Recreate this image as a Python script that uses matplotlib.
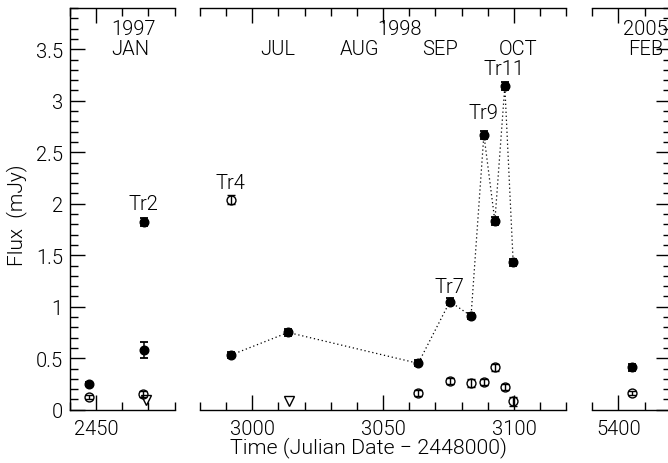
import matplotlib
matplotlib.use("Agg")
import matplotlib.pyplot as plt
from matplotlib.ticker import MultipleLocator, FuncFormatter

plt.rcParams['font.family'] = ['Roboto', 'DejaVu Sans']
plt.rcParams['font.weight'] = 300
plt.rcParams['font.size'] = 14.5

# Time axis is Julian Date - 2448000
# Filled symbols (connected by a dotted line during the 1998 outburst)
filled_t = [2447.2, 2468.2, 2468.2, 2991.8, 3013.7, 3063.4, 3075.5, 3083.6,
            3088.5, 3092.7, 3096.5, 3099.7, 5405.3]
filled_flux = [0.25, 1.82, 0.58, 0.53, 0.75, 0.45, 1.05, 0.91,
               2.67, 1.83, 3.14, 1.43, 0.41]
filled_err = [0.02, 0.04, 0.08, 0.03, 0.03, 0.03, 0.03, 0.03,
              0.04, 0.04, 0.04, 0.03, 0.03]

# Open symbols
open_t = [2447.2, 2468.1, 2991.8, 3063.4, 3075.5, 3083.6, 3088.5, 3092.7,
          3096.5, 3099.7, 5405.3]
open_flux = [0.12, 0.15, 2.04, 0.16, 0.28, 0.26, 0.27, 0.41, 0.22, 0.08, 0.16]
open_err = [0.02, 0.03, 0.04, 0.03, 0.03, 0.04, 0.03, 0.03, 0.03, 0.04, 0.02]

# Upper limits
limit_t = [2469.0, 3013.9]
limit_flux = [0.09, 0.08]

# Flare labels
flare_names = ["Tr2", "Tr4", "Tr7", "Tr9", "Tr11"]
flare_t = [2468.2, 2991.7, 3075.3, 3088.3, 3096.0]
flare_flux = [2.0, 2.21, 1.2, 2.89, 3.31]

# Calendar labels for each panel: (x, text)
year_labels = [[(2464.3, "1997")], [(3056.4, "1998")], [(5410.4, "2005")]]
month_labels = [[(2463.0, "JAN")],
                [(3009.8, "JUL"), (3040.8, "AUG"), (3071.7, "SEP"), (3101.7, "OCT")],
                [(5410.4, "FEB")]]

x_ranges = [(2440, 2480), (2980, 3120), (5390, 5420)]
y_range = (0, 3.9)

W, H = 668, 464
fig = plt.figure(figsize=(W / 100, H / 100), dpi=100)

px_left = [69.8, 200.0, 592.2]
px_right = [174.6, 566.3, 670.7]
px_top, px_bottom = 9.0, 410.7

axes = []
for i, (xr, l, r) in enumerate(zip(x_ranges, px_left, px_right)):
    ax = fig.add_axes([l / W, (H - px_bottom) / H, (r - l) / W, (px_bottom - px_top) / H])
    ax.set_xlim(*xr)
    ax.set_ylim(*y_range)
    axes.append(ax)

    in_panel = [k for k, t in enumerate(filled_t) if xr[0] <= t <= xr[1]]
    ft = [filled_t[k] for k in in_panel]
    ff = [filled_flux[k] for k in in_panel]
    fe = [filled_err[k] for k in in_panel]
    if i == 1:
        order = sorted(range(len(ft)), key=lambda k: ft[k])
        ax.plot([ft[k] for k in order], [ff[k] for k in order], color='black',
                lw=0.9, ls=(0, (1, 2.2)), zorder=1)
    ax.errorbar(ft, ff, yerr=fe, fmt='o', color='black', ms=6.2, capsize=3.0,
                elinewidth=1.1, capthick=1.3, zorder=3)

    in_panel = [k for k, t in enumerate(open_t) if xr[0] <= t <= xr[1]]
    ax.errorbar([open_t[k] for k in in_panel], [open_flux[k] for k in in_panel],
                yerr=[open_err[k] for k in in_panel], fmt='o', color='black',
                mfc='none', mec='black', mew=1.0, ms=6.4, capsize=3.0,
                elinewidth=1.0, capthick=1.3, zorder=3)

    in_panel = [k for k, t in enumerate(limit_t) if xr[0] <= t <= xr[1]]
    ax.plot([limit_t[k] for k in in_panel], [limit_flux[k] for k in in_panel],
            'v', mfc='none', mec='black', mew=1.0, ms=6.5, zorder=3)

    for name, t, f in zip(flare_names, flare_t, flare_flux):
        if xr[0] <= t <= xr[1]:
            ax.text(t, f, name, ha='center', va='center')

    for t, s in year_labels[i]:
        ax.text(t, 0.95, s, transform=ax.get_xaxis_transform(), ha='center', va='center')
    for t, s in month_labels[i]:
        ax.text(t, 0.899, s, transform=ax.get_xaxis_transform(), ha='center', va='center')

    # spines and ticks
    for side in ('left', 'right', 'top', 'bottom'):
        ax.spines[side].set_linewidth(1.0)
    ax.spines['left'].set_visible(i == 0)
    ax.spines['right'].set_visible(i == 2)

    ax.xaxis.set_major_locator(MultipleLocator(50))
    ax.xaxis.set_minor_locator(MultipleLocator(10))
    ax.tick_params(axis='x', which='both', direction='in', top=True, bottom=True,
                   width=1.0, pad=7)
    ax.tick_params(axis='x', which='major', length=11)
    ax.tick_params(axis='x', which='minor', length=5.5)

    ax.yaxis.set_major_locator(MultipleLocator(0.5))
    ax.yaxis.set_minor_locator(MultipleLocator(0.1))
    ax.yaxis.set_major_formatter(FuncFormatter(lambda v, p: f"{v:g}"))
    ax.tick_params(axis='y', which='both', direction='in', width=1.0, pad=5,
                   left=(i == 0), right=(i == 2), labelleft=(i == 0), labelright=False)
    ax.tick_params(axis='y', which='major', length=11)
    ax.tick_params(axis='y', which='minor', length=5.5)

fig.text(17 / W, 1 - 215 / H, "Flux  (mJy)", rotation=90, ha='center', va='center',
         fontsize=15)
fig.text(369 / W, 1 - 448 / H, "Time (Julian Date \u2212 2448000)", ha='center',
         va='center', fontsize=15.4)

fig.savefig("out.png", dpi=100)
